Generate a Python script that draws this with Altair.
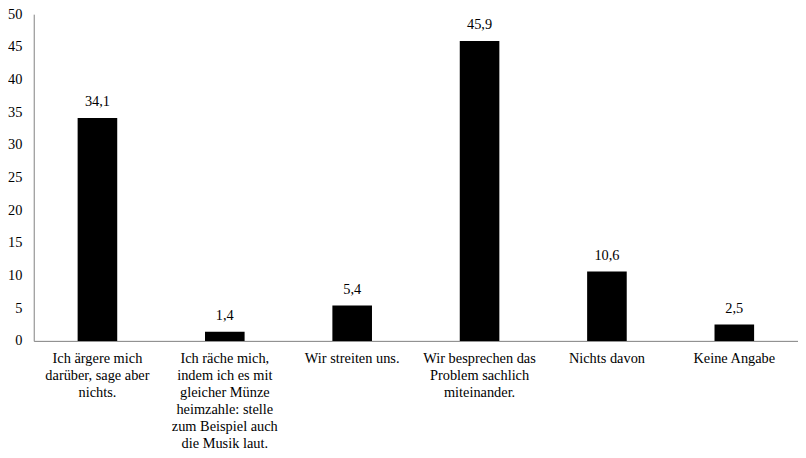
import altair as alt
import pandas as pd

categories = [
    "Ich ärgere mich\ndarüber, sage aber\nnichts.",
    "Ich räche mich,\nindem ich es mit\ngleicher Münze\nheimzahle: stelle\nzum Beispiel auch\ndie Musik laut.",
    "Wir streiten uns.",
    "Wir besprechen das\nProblem sachlich\nmiteinander.",
    "Nichts davon",
    "Keine Angabe",
]
values = [34.1, 1.4, 5.4, 45.9, 10.6, 2.5]
y_ticks = [0, 5, 10, 15, 20, 25, 30, 35, 40, 45, 50]

df = pd.DataFrame({"cat": categories, "value": values})

FONT = "Liberation Serif"

x_enc = alt.X(
    "cat:N",
    sort=None,
    title=None,
    scale=alt.Scale(paddingInner=0, paddingOuter=0),
    axis=alt.Axis(
        labelExpr="split(datum.label, '\\n')",
        labelAngle=0,
        labelAlign="center",
        labelBaseline="top",
        labelLineHeight=17.2,
        labelPadding=11,
        labelFontSize=14.5,
        labelFont=FONT,
        labelColor="#000000",
        labelLimit=0,
        ticks=False,
        domainColor="#7f7f7f",
        domainWidth=1,
        grid=False,
    ),
)

y_enc = alt.Y(
    "value:Q",
    title=None,
    scale=alt.Scale(domain=[0, 50], nice=False),
    axis=alt.Axis(
        values=y_ticks,
        ticks=False,
        labelPadding=12,
        labelFontSize=14.5,
        labelFont=FONT,
        labelColor="#000000",
        labelOverlap=False,
        domainColor="#7f7f7f",
        domainWidth=1,
        grid=False,
    ),
)

base = alt.Chart(df).encode(x=x_enc, y=y_enc)

bars = base.mark_bar(size=40, color="#000000")

labels = (
    base.transform_calculate(lbl="replace(format(datum.value, '.1f'), '.', ',')")
    .mark_text(dy=-9, baseline="bottom", font=FONT, fontSize=14.5, color="#000000")
    .encode(text="lbl:N")
)

chart = (
    alt.layer(bars, labels)
    .properties(
        width=772,
        height=330,
        autosize="none",
        background="#ffffff",
        padding={"left": 26, "top": 4, "right": 0, "bottom": 110},
    )
    .configure(
        style={"cell": {"stroke": "transparent", "strokeWidth": 0}},
        view={"stroke": "transparent", "strokeWidth": 0},
        axis={"grid": False, "gridOpacity": 0},
    )
)

chart.save("out.html", embed_options={"renderer": "svg", "actions": False})
